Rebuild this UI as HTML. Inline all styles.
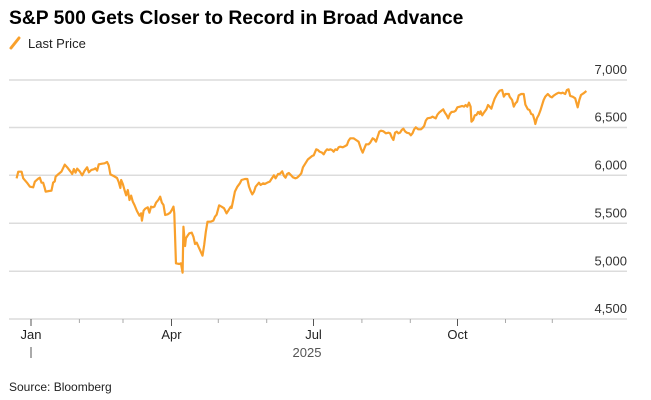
<!DOCTYPE html>
<html><head><meta charset="utf-8"><style>
html,body{margin:0;padding:0;background:#fff;width:651px;height:400px;overflow:hidden;font-family:"Liberation Sans",sans-serif;}
</style></head><body>
<svg width="651" height="400" viewBox="0 0 651 400" xmlns="http://www.w3.org/2000/svg" font-family="Liberation Sans, sans-serif">
<text x="9" y="24" font-size="19.3" font-weight="bold" fill="#000">S&amp;P 500 Gets Closer to Record in Broad Advance</text>
<line x1="11" y1="48" x2="19" y2="38" stroke="#f9a02b" stroke-width="3" stroke-linecap="round"/>
<text x="28" y="48" font-size="13" fill="#222">Last Price</text>
<g stroke="#dcdcdc" stroke-width="1.5">
<line x1="9" y1="80" x2="627" y2="80"/>
<line x1="9" y1="127.5" x2="627" y2="127.5"/>
<line x1="9" y1="175.3" x2="627" y2="175.3"/>
<line x1="9" y1="223.3" x2="627" y2="223.3"/>
<line x1="9" y1="271.3" x2="627" y2="271.3"/>
<line x1="9" y1="319" x2="627" y2="319"/>
</g>
<g font-size="13" fill="#333" text-anchor="end">
<text x="627" y="74">7,000</text>
<text x="627" y="121.5">6,500</text>
<text x="627" y="169.5">6,000</text>
<text x="627" y="217.5">5,500</text>
<text x="627" y="265.5">5,000</text>
<text x="627" y="313">4,500</text>
</g>
<g stroke="#aaa" stroke-width="1">
<line x1="31" y1="319" x2="31" y2="326" stroke="#555"/>
<line x1="79.4" y1="319" x2="79.4" y2="323"/>
<line x1="123" y1="319" x2="123" y2="323"/>
<line x1="171.5" y1="319" x2="171.5" y2="326" stroke="#555"/>
<line x1="218.3" y1="319" x2="218.3" y2="323"/>
<line x1="266.7" y1="319" x2="266.7" y2="323"/>
<line x1="313.5" y1="319" x2="313.5" y2="326" stroke="#555"/>
<line x1="361.9" y1="319" x2="361.9" y2="323"/>
<line x1="410.3" y1="319" x2="410.3" y2="323"/>
<line x1="457.5" y1="319" x2="457.5" y2="326" stroke="#555"/>
<line x1="505.5" y1="319" x2="505.5" y2="323"/>
<line x1="552.3" y1="319" x2="552.3" y2="323"/>
<line x1="31" y1="347" x2="31" y2="358" stroke="#555"/>
</g>
<g font-size="13" fill="#222" text-anchor="middle">
<text x="31" y="339">Jan</text>
<text x="171.5" y="339">Apr</text>
<text x="313.5" y="339">Jul</text>
<text x="457.5" y="339">Oct</text>
</g>
<text x="307" y="357" font-size="13" fill="#555" text-anchor="middle">2025</text>
<text x="9" y="391" font-size="12" fill="#222">Source: Bloomberg</text>
<g transform="translate(0,50) scale(0.415,0.33333)">
<path fill="none" stroke="#f9a02b" stroke-width="2.2" vector-effect="non-scaling-stroke" stroke-linejoin="round" d="M40,385 L44,365 52,365 56,385 65,398 72,410 80,412 84,395 92,386 96,383 100,398 104,398 108,415 110,425 118,423 124,422 128,398 132,394 134,380 140,373 148,365 156,344 162,352 170,365 174,372 178,357 182,368 186,356 192,364 198,376 204,362 210,352 214,367 220,360 226,358 230,355 234,362 238,343 246,341 252,340 258,336 262,346 266,373 274,378 282,384 286,396 290,414 292,390 296,402 300,420 304,436 308,420 312,450 316,437 320,455 324,465 330,483 336,497 340,490 342,512 346,482 350,476 356,472 360,488 364,470 368,472 372,470 376,458 382,449 386,440 390,458 394,465 398,495 404,493 410,488 414,480 418,470 420,490 424,640 432,642 436,640 440,668 442,530 446,588 448,565 452,557 456,550 462,548 466,560 470,582 474,578 480,595 488,617 492,585 496,545 500,515 508,515 514,512 518,500 522,494 528,466 534,470 540,475 546,490 550,482 556,470 558,474 562,450 566,425 572,410 578,400 582,390 590,387 596,387 600,410 604,423 608,433 612,425 616,410 620,404 624,398 628,405 634,400 638,402 644,398 650,395 654,387 660,376 664,385 670,372 674,372 680,364 684,377 688,383 692,372 696,369 700,374 706,382 712,385 716,383 722,376 726,370 730,352 736,340 742,328 748,322 752,318 756,316 762,298 766,300 770,305 776,308 780,313 784,304 788,298 792,300 796,298 800,300 804,305 808,298 812,300 816,292 820,290 826,292 832,288 836,285 840,272 844,265 852,265 858,270 864,275 870,297 874,308 878,295 882,283 888,283 892,278 898,265 902,268 906,275 910,260 914,245 918,242 924,244 930,250 936,248 940,250 944,262 948,270 952,248 956,245 960,250 964,248 968,240 972,236 976,244 980,248 986,250 990,256 994,250 998,238 1002,232 1008,238 1014,238 1018,234 1022,228 1026,212 1030,205 1038,203 1042,200 1050,205 1054,194 1058,188 1064,182 1068,178 1072,188 1076,195 1080,205 1084,192 1088,186 1094,185 1098,182 1102,172 1108,170 1114,168 1118,170 1122,165 1126,170 1130,158 1134,170 1136,215 1140,210 1144,196 1148,195 1152,186 1156,192 1158,184 1162,196 1166,188 1172,178 1176,165 1180,170 1184,176 1188,160 1192,146 1198,132 1204,122 1210,120 1214,140 1218,132 1226,132 1228,140 1234,150 1238,170 1242,160 1246,155 1250,136 1256,132 1262,132 1266,164 1272,178 1276,180 1280,192 1284,194 1288,210 1290,222 1294,204 1298,195 1302,182 1306,166 1310,150 1314,140 1320,132 1326,140 1330,142 1334,137 1340,132 1346,128 1352,130 1356,128 1362,132 1366,120 1370,118 1374,138 1380,140 1386,145 1392,172 1396,150 1400,135 1406,130 1413,123"/>
</g>
</svg>
</body></html>
